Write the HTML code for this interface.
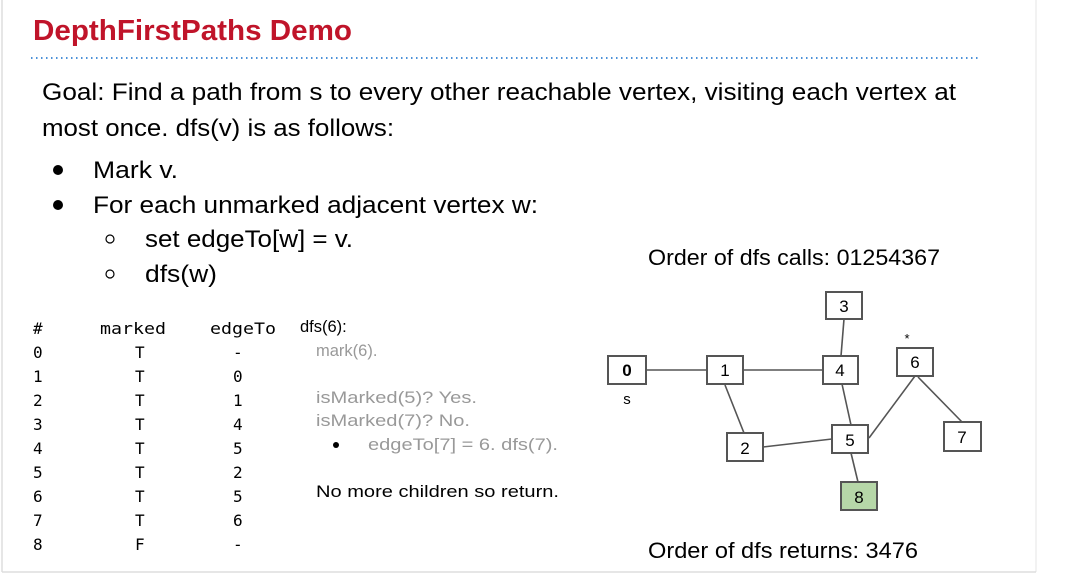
<!DOCTYPE html>
<html><head><meta charset="utf-8"><style>
html,body{margin:0;padding:0;background:#fff;width:1074px;height:575px;overflow:hidden}
svg{display:block}
.c{font-family:"Liberation Sans",sans-serif}
.m{font-family:"DejaVu Sans Mono","Liberation Mono",monospace;font-size:16px}
</style></head><body>
<svg width="1074" height="575" viewBox="0 0 1074 575" xmlns="http://www.w3.org/2000/svg">
<rect x="0" y="0" width="1074" height="575" fill="#fff"/>
<line x1="2" y1="0" x2="2" y2="572" stroke="#ddd" stroke-width="1.5"/>
<line x1="1036" y1="0" x2="1036" y2="572" stroke="#eee" stroke-width="1.5"/>
<line x1="2" y1="572" x2="1036" y2="572" stroke="#ddd" stroke-width="1.5"/>
<text x="33" y="40" class="c" font-size="29" font-weight="bold" fill="#c0142a" textLength="319" lengthAdjust="spacingAndGlyphs">DepthFirstPaths Demo</text>
<line x1="31" y1="58" x2="980" y2="58" stroke="#4a90d9" stroke-width="2" stroke-dasharray="1.5 3.5"/>
<g class="c" font-size="24" fill="#000">
<text x="42" y="100" textLength="914" lengthAdjust="spacingAndGlyphs">Goal: Find a path from s to every other reachable vertex, visiting each vertex at</text>
<text x="42" y="136" textLength="352" lengthAdjust="spacingAndGlyphs">most once. dfs(v) is as follows:</text>
<text x="93" y="178" textLength="85" lengthAdjust="spacingAndGlyphs">Mark v.</text>
<text x="93" y="213" textLength="445" lengthAdjust="spacingAndGlyphs">For each unmarked adjacent vertex w:</text>
<text x="145" y="247" textLength="208" lengthAdjust="spacingAndGlyphs">set edgeTo[w] = v.</text>
<text x="145" y="282" textLength="72" lengthAdjust="spacingAndGlyphs">dfs(w)</text>
<text x="648" y="265" font-size="22" textLength="292" lengthAdjust="spacingAndGlyphs">Order of dfs calls: 01254367</text>
<text x="648" y="558" font-size="22" textLength="270" lengthAdjust="spacingAndGlyphs">Order of dfs returns: 3476</text>
</g>
<circle cx="58" cy="170" r="5" fill="#000"/>
<circle cx="58" cy="205" r="5" fill="#000"/>
<circle cx="110" cy="239" r="4" fill="none" stroke="#000" stroke-width="1.2"/>
<circle cx="110" cy="274" r="4" fill="none" stroke="#000" stroke-width="1.2"/>
<g class="m" fill="#000">
<text x="33" y="334">#</text>
<text x="100" y="334" textLength="66" lengthAdjust="spacingAndGlyphs">marked</text>
<text x="210" y="334" textLength="66" lengthAdjust="spacingAndGlyphs">edgeTo</text>
<text x="33" y="358">0</text><text x="135" y="358">T</text><text x="233" y="358">-</text>
<text x="33" y="382">1</text><text x="135" y="382">T</text><text x="233" y="382">0</text>
<text x="33" y="406">2</text><text x="135" y="406">T</text><text x="233" y="406">1</text>
<text x="33" y="430">3</text><text x="135" y="430">T</text><text x="233" y="430">4</text>
<text x="33" y="454">4</text><text x="135" y="454">T</text><text x="233" y="454">5</text>
<text x="33" y="478">5</text><text x="135" y="478">T</text><text x="233" y="478">2</text>
<text x="33" y="502">6</text><text x="135" y="502">T</text><text x="233" y="502">5</text>
<text x="33" y="526">7</text><text x="135" y="526">T</text><text x="233" y="526">6</text>
<text x="33" y="550">8</text><text x="135" y="550">F</text><text x="233" y="550">-</text>
</g>
<g class="c" font-size="16.5">
<text x="300" y="332" fill="#000">dfs(6):</text>
<text x="316" y="356" fill="#999">mark(6).</text>
<text x="316" y="403" fill="#999" textLength="161" lengthAdjust="spacingAndGlyphs">isMarked(5)? Yes.</text>
<text x="316" y="426" fill="#999" textLength="154" lengthAdjust="spacingAndGlyphs">isMarked(7)? No.</text>
<circle cx="336" cy="445" r="3" fill="#000"/>
<text x="368" y="450" fill="#999" textLength="190" lengthAdjust="spacingAndGlyphs">edgeTo[7] = 6. dfs(7).</text>
<text x="316" y="497" fill="#000" textLength="243" lengthAdjust="spacingAndGlyphs">No more children so return.</text>
</g>
<g stroke="#555" stroke-width="1.6">
<line x1="646" y1="370" x2="707" y2="370"/>
<line x1="743" y1="370" x2="823" y2="370"/>
<line x1="844" y1="319" x2="841" y2="356"/>
<line x1="725" y1="385" x2="744" y2="433"/>
<line x1="842" y1="384" x2="851" y2="425"/>
<line x1="763" y1="447" x2="832" y2="439"/>
<line x1="851" y1="453" x2="858" y2="482"/>
<line x1="869" y1="438" x2="915" y2="376"/>
<line x1="918" y1="377" x2="962" y2="422"/>
</g>
<g stroke="#555" stroke-width="2" fill="#fff">
<rect x="608" y="356" width="38" height="28"/>
<rect x="707" y="356" width="36" height="28"/>
<rect x="823" y="356" width="35" height="28"/>
<rect x="826" y="292" width="36" height="27"/>
<rect x="897" y="348" width="36" height="28"/>
<rect x="944" y="422" width="37" height="29"/>
<rect x="832" y="425" width="36" height="28"/>
<rect x="727" y="433" width="36" height="28"/>
<rect x="841" y="482" width="36" height="28" fill="#b6d7a8"/>
</g>
<g class="c" font-size="17" text-anchor="middle" fill="#000">
<text x="627" y="376" font-weight="bold">0</text>
<text x="725" y="376">1</text>
<text x="840" y="376">4</text>
<text x="844" y="312">3</text>
<text x="915" y="368">6</text>
<text x="962" y="443">7</text>
<text x="850" y="446">5</text>
<text x="745" y="454">2</text>
<text x="859" y="503">8</text>
<text x="627" y="404" font-size="15">s</text>
<text x="907" y="343" font-size="13">*</text>
</g>
</svg>
</body></html>
